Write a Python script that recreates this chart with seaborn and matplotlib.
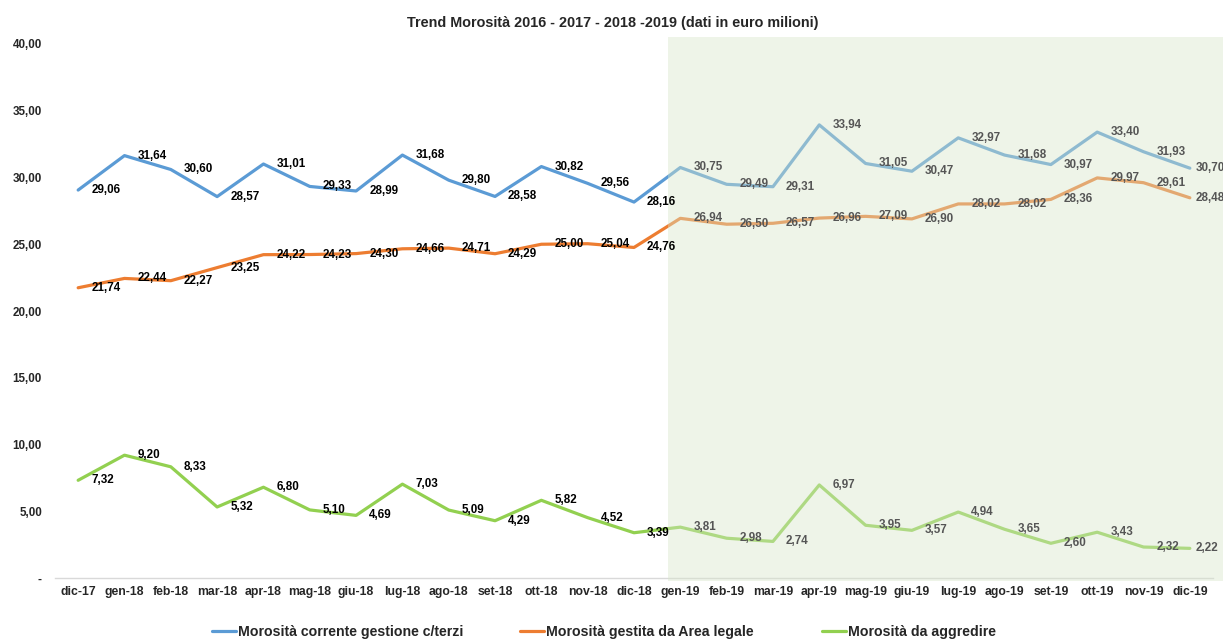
import matplotlib
matplotlib.use("Agg")
import matplotlib.pyplot as plt
import numpy as np
import pandas as pd
import seaborn as sns
from matplotlib.patches import Rectangle
from matplotlib.lines import Line2D

# --- data (euro milioni) ---
months = ["dic-17", "gen-18", "feb-18", "mar-18", "apr-18", "mag-18", "giu-18",
          "lug-18", "ago-18", "set-18", "ott-18", "nov-18", "dic-18",
          "gen-19", "feb-19", "mar-19", "apr-19", "mag-19", "giu-19",
          "lug-19", "ago-19", "set-19", "ott-19", "nov-19", "dic-19"]

corrente = [29.06, 31.64, 30.60, 28.57, 31.01, 29.33, 28.99, 31.68, 29.80, 28.58,
            30.82, 29.56, 28.16, 30.75, 29.49, 29.31, 33.94, 31.05, 30.47, 32.97,
            31.68, 30.97, 33.40, 31.93, 30.70]
legale = [21.74, 22.44, 22.27, 23.25, 24.22, 24.23, 24.30, 24.66, 24.71, 24.29,
          25.00, 25.04, 24.76, 26.94, 26.50, 26.57, 26.96, 27.09, 26.90, 28.02,
          28.02, 28.36, 29.97, 29.61, 28.48]
aggredire = [7.32, 9.20, 8.33, 5.32, 6.80, 5.10, 4.69, 7.03, 5.09, 4.29, 5.82,
             4.52, 3.39, 3.81, 2.98, 2.74, 6.97, 3.95, 3.57, 4.94, 3.65, 2.60,
             3.43, 2.32, 2.22]

series_names = ["Morosità corrente gestione c/terzi",
                "Morosità gestita da Area legale",
                "Morosità da aggredire"]
series_values = [corrente, legale, aggredire]
colors = ["#5B9BD5", "#ED7D31", "#92D050"]

title = "Trend Morosità 2016 - 2017 - 2018 -2019 (dati in euro milioni)"

# --- style ---
sns.set_style("white")
plt.rcParams["font.family"] = ["Liberation Sans", "DejaVu Sans"]

W, H = 1223, 643
fig = plt.figure(figsize=(W / 100, H / 100), dpi=100)
ax = fig.add_axes([55 / W, (H - 578) / H, (1213 - 55) / W, (578 - 44) / H])

x_idx = np.arange(len(months))
df = pd.concat([
    pd.DataFrame({"pos": x_idx, "valore": vals, "serie": name})
    for name, vals in zip(series_names, series_values)
], ignore_index=True)

sns.lineplot(data=df, x="pos", y="valore", hue="serie", hue_order=series_names,
             palette=dict(zip(series_names, colors)), linewidth=2.3,
             legend=False, ax=ax, zorder=2)

ax.set_xlim(-0.5, len(months) - 0.5)
ax.set_ylim(0, 40)

# 2019 highlight band, washing out the lines underneath
first_2019 = months.index("gen-19")
band = Rectangle((first_2019 - 0.26, -0.25), len(months) - first_2019 + 1.5, 40.78,
                 facecolor="#D7E6CA", alpha=0.42, edgecolor="none",
                 transform=ax.transData, clip_on=False, zorder=2.6)
ax.add_patch(band)

# value labels (Italian decimal comma)
def fmt(v):
    return f"{v:.2f}".replace(".", ",")

for vals in series_values:
    for i, v in enumerate(vals):
        dx = 9.4 if i < len(months) - 1 else 4.0
        col = "black" if i < first_2019 else "#555555"
        ax.annotate(fmt(v), (i, v), xytext=(dx, 0), textcoords="offset points",
                    ha="left", va="center", fontsize=8.4, fontweight="bold",
                    color=col, zorder=4, annotation_clip=False)

# axes styling
for s in ["top", "right", "left"]:
    ax.spines[s].set_visible(False)
ax.spines["bottom"].set_color("#D9D9D9")
ax.spines["bottom"].set_linewidth(1.0)

yt = np.arange(0, 41, 5)
ax.set_yticks(yt)
ax.set_yticklabels(["-" if v == 0 else f"{v:.2f}".replace(".", ",") for v in yt])
ax.tick_params(axis="y", length=0, pad=9.4, labelsize=8.4)

ax.set_xticks(x_idx)
ax.set_xticklabels(months)
ax.set_xticks(np.arange(-0.5, len(months), 1.0), minor=True)
ax.tick_params(axis="x", which="major", length=0, pad=6, labelsize=8.8)
ax.tick_params(axis="x", which="minor", length=4, color="#D9D9D9", width=1,
               direction="out")
for lab in ax.get_xticklabels() + ax.get_yticklabels():
    lab.set_fontweight("bold")
ax.set_xlabel("")
ax.set_ylabel("")
ax.grid(False)

fig.text(613 / W, 1 - 23 / H, title, ha="center", va="center",
         fontsize=10.4, fontweight="bold")

# legend entries along the bottom
legend_x = [212, 520, 822]
for name, col, lx in zip(series_names, colors, legend_x):
    h = Line2D([], [], color=col, linewidth=2.3)
    fig.legend([h], [name], loc="center left",
               bbox_to_anchor=(lx / W, 1 - 632 / H), frameon=False,
               borderpad=0, borderaxespad=0, handlelength=1.7,
               handletextpad=0.1, prop={"size": 10.2, "weight": "bold"})

fig.savefig("out.png", dpi=100)
